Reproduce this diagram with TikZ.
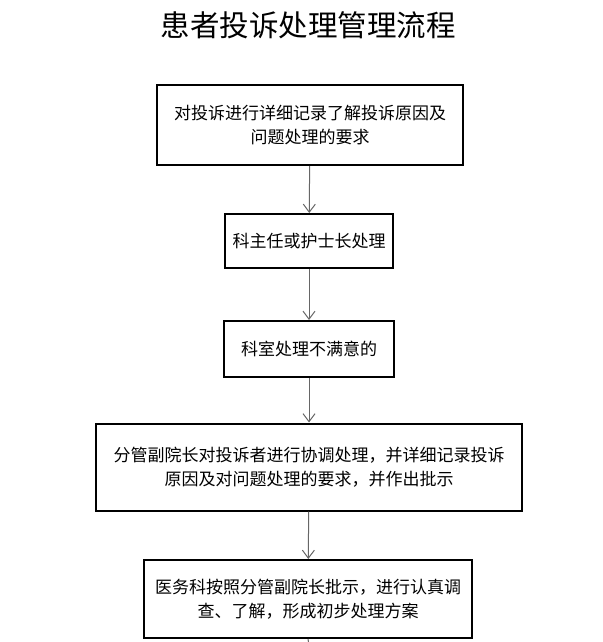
\documentclass[tikz,border=0pt]{standalone}
\usepackage{fontspec}
\setmainfont{Noto Sans CJK SC}
\usetikzlibrary{arrows.meta}
\tikzset{
  box/.style={draw=black, line width=2pt, fill=white, align=center, inner sep=0pt,
    font=\fontsize{17}{23.5}\selectfont},
  flow/.style={draw=gray!80!black, line width=1pt, -{Straight Barb[length=8pt,width=12pt]}},
}
\begin{document}
\begin{tikzpicture}[x=1pt,y=-1pt]
\useasboundingbox (0,0) rectangle (602,642);
\node[font=\fontsize{29.5}{32}\selectfont] (title) at (308,25) {患者投诉处理管理流程};
\node[box, minimum width=306, minimum height=80] (b1) at (310,125) {对投诉进行详细记录了解投诉原因及\\问题处理的要求};
\node[box, minimum width=168, minimum height=54] (b2) at (309,241) {科主任或护士长处理};
\node[box, minimum width=170, minimum height=56] (b3) at (309,349) {科室处理不满意的};
\node[box, minimum width=426, minimum height=87] (b4) at (309,467) {分管副院长对投诉者进行协调处理，并详细记录投诉\\原因及对问题处理的要求，并作出批示};
\node[box, minimum width=328, minimum height=78] (b5) at (308,599) {医务科按照分管副院长批示，进行认真调\\查、了解，形成初步处理方案};
\coordinate (end) at (309,645);
\draw[flow] (b1) -- (b2);
\draw[flow] (b2) -- (b3);
\draw[flow] (b3) -- (b4);
\draw[flow] (b4) -- (b5);
\draw[draw=gray!80!black, line width=1pt] (b5.south) -- (end);
\end{tikzpicture}
\end{document}
